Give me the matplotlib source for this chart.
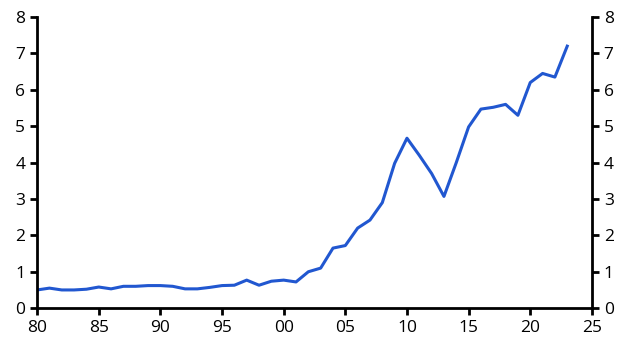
import matplotlib
matplotlib.use('Agg')
import matplotlib.pyplot as plt

# annual values, 1980-2023
years = list(range(1980, 2024))
values = [0.50, 0.55, 0.50, 0.50, 0.52, 0.58, 0.53, 0.60, 0.60, 0.62,
          0.62, 0.60, 0.53, 0.53, 0.57, 0.62, 0.63, 0.77, 0.63, 0.74,
          0.77, 0.72, 1.00, 1.10, 1.65, 1.72, 2.20, 2.42, 2.90, 3.98,
          4.67, 4.20, 3.70, 3.07, 4.00, 4.98, 5.47, 5.52, 5.60, 5.30,
          6.20, 6.45, 6.35, 7.20]
x_ticks = list(range(1980, 2026, 5))
x_labels = ['%02d' % (y % 100) for y in x_ticks]
y_ticks = list(range(0, 9))

plt.rcParams['font.family'] = ['Open Sans', 'DejaVu Sans']

fig = plt.figure(figsize=(6.29, 3.55), dpi=100)
ax = fig.add_axes([0.059, 0.132, 0.882, 0.820])

ax.plot(years, values, color='#2157d0', linewidth=2.2)

ax.set_xlim(1980, 2025)
ax.set_ylim(0, 8)
ax.set_xticks(x_ticks)
ax.set_xticklabels(x_labels)
ax.set_yticks(y_ticks)

ax.spines['top'].set_visible(False)
for s in ['left', 'right', 'bottom']:
    ax.spines[s].set_linewidth(2)
ax.tick_params(axis='both', direction='out', width=2, length=5, labelsize=12.5,
               colors='black', right=True, labelright=True)

fig.savefig('out.png', dpi=100)
